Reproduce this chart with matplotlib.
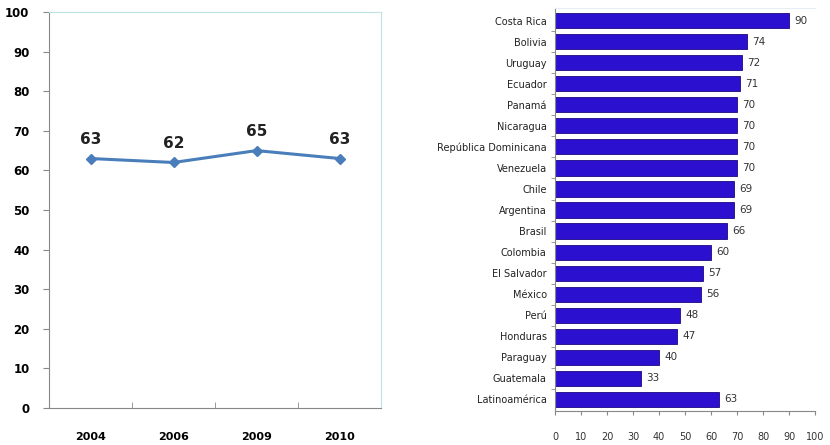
import matplotlib.pyplot as plt

# Serie temporal (panel izquierdo)
years = ["2004", "2006", "2009", "2010"]
trend = [63, 62, 65, 63]

# Paises (panel derecho)
countries = ["Costa Rica", "Bolivia", "Uruguay", "Ecuador", "Panamá", "Nicaragua",
             "República Dominicana", "Venezuela", "Chile", "Argentina", "Brasil",
             "Colombia", "El Salvador", "México", "Perú", "Honduras", "Paraguay",
             "Guatemala", "Latinoamérica"]
values = [90, 74, 72, 71, 70, 70, 70, 70, 69, 69, 66, 60, 57, 56, 48, 47, 40, 33, 63]

LINE_COLOR = "#4A7EBB"
BAR_COLOR = "#2C10D0"
FRAME_COLOR = "#BFE3E3"

fig = plt.figure(figsize=(8.3, 4.45), dpi=100)

# --- panel izquierdo ---
ax1 = fig.add_axes([49 / 830, 1 - 408 / 445, 332 / 830, 396 / 445])
x = range(len(years))
ax1.plot(x, trend, color=LINE_COLOR, lw=2.2, marker="D", ms=5)
for xi, v in zip(x, trend):
    ax1.text(xi, v + 3, str(v), ha="center", va="bottom", fontsize=11,
             fontweight="bold", color="#222222")
ax1.set_xlim(-0.5, len(years) - 0.5)
ax1.set_ylim(0, 100)
ax1.set_yticks(range(0, 101, 10))
ax1.set_xticks(list(x))
ax1.set_xticklabels(years, fontsize=8, fontweight="bold")
ax1.set_xticks([0.5, 1.5, 2.5], minor=True)
ax1.tick_params(axis="x", which="major", length=0, pad=17)
ax1.tick_params(axis="x", which="minor", length=4, direction="in", color="#888888")
ax1.tick_params(axis="y", labelsize=8.5, length=4, color="#888888", pad=10)
for lab in ax1.get_yticklabels():
    lab.set_fontweight("bold")
ax1.spines["left"].set_color("#888888")
ax1.spines["bottom"].set_color("#888888")
ax1.spines["top"].set_color(FRAME_COLOR)
ax1.spines["right"].set_color(FRAME_COLOR)

# --- panel derecho ---
ax2 = fig.add_axes([555 / 830, 1 - 411 / 445, 260 / 830, 403 / 445])
ypos = list(range(len(countries)))
ax2.barh(ypos, values, height=0.72, color=BAR_COLOR, edgecolor="#1A0880", lw=0.6)
for yi, v in zip(ypos, values):
    ax2.text(v + 2, yi, str(v), va="center", ha="left", fontsize=7.5, color="#333333")
ax2.set_ylim(len(countries) - 0.45, -0.6)
ax2.set_xlim(0, 100)
ax2.set_yticks(ypos)
ax2.set_yticklabels(countries, fontsize=7, color="#222222")
ax2.set_yticks([i + 0.5 for i in ypos[:-1]], minor=True)
ax2.tick_params(axis="y", which="major", length=0, pad=6)
ax2.tick_params(axis="y", which="minor", length=3, color="#888888")
ax2.set_xticks(range(0, 101, 10))
ax2.tick_params(axis="x", labelsize=7, length=3, color="#888888", pad=12,
                labelcolor="#333333")
ax2.spines["left"].set_color("#888888")
ax2.spines["bottom"].set_color("#888888")
ax2.spines["top"].set_color("#E4EEF4")
ax2.spines["right"].set_visible(False)

fig.savefig("out.png", dpi=100)
